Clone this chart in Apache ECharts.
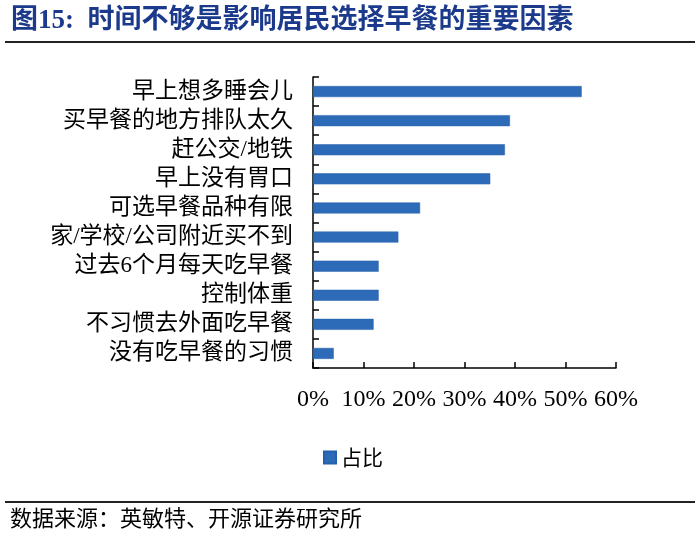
<!DOCTYPE html>
<html>
<head>
<meta charset="utf-8">
<script src="https://cdn.jsdelivr.net/npm/echarts@6/dist/echarts.min.js"></script>
<style>
html,body{margin:0;padding:0;background:#fff;}
#c{width:700px;height:539px;}
</style>
</head>
<body>
<div id="c"></div>
<script>
var categories = ['早上想多睡会儿','买早餐的地方排队太久','赶公交/地铁','早上没有胃口','可选早餐品种有限','家/学校/公司附近买不到','过去6个月每天吃早餐','控制体重','不习惯去外面吃早餐','没有吃早餐的习惯'];
var shareValues = [53.2, 39.0, 38.0, 35.1, 21.2, 16.9, 13.0, 13.0, 12.0, 4.1];
var xTicks = [0, 10, 20, 30, 40, 50, 60];
var seriesName = '占比';
var titleText = '图15:  时间不够是影响居民选择早餐的重要因素';
var sourceText = '数据来源：英敏特、开源证券研究所';

var cjk = '"Noto Sans CJK SC", sans-serif';
var chart = echarts.init(document.getElementById('c'), null, {renderer:'canvas'});
chart.setOption({
  backgroundColor:'#fff',
  animation:false,
  title:{
    text: titleText,
    left: 6, top: 3,
    textStyle:{color:'#1B3A8C', fontSize:27, fontWeight:'bold', fontFamily:'"Liberation Serif", '+cjk}
  },
  legend:{
    data:[seriesName],
    left: 318, top: 442,
    itemWidth:12, itemHeight:12, itemGap:8,
    icon:'rect',
    textStyle:{color:'#000', fontSize:21, fontFamily:cjk}
  },
  grid:{left:313, right:84, top:77, bottom:171, containLabel:false},
  xAxis:{
    type:'value', min:0, max:60, interval:10,
    axisLine:{show:true, lineStyle:{color:'#000', width:1.5}},
    axisTick:{show:true, inside:true, length:6, lineStyle:{color:'#000', width:1.5}},
    splitLine:{show:false},
    axisLabel:{margin:20, color:'#000', fontSize:24, hideOverlap:false, fontFamily:'"Liberation Serif", serif', formatter:function(v){return v+'%';}}
  },
  yAxis:{
    type:'category', data:categories, inverse:true,
    axisLine:{show:true, lineStyle:{color:'#000', width:1.5}},
    axisTick:{show:true, inside:true, length:6, interval:0, lineStyle:{color:'#000', width:1.5}},
    axisLabel:{margin:20, interval:0, hideOverlap:false, color:'#000', fontSize:23, fontFamily:'"Liberation Serif", '+cjk}
  },
  series:[{
    name:seriesName, type:'bar', data:shareValues, barWidth:11,
    itemStyle:{color:'#2D6BB8', borderColor:'#2560AA', borderWidth:0.5}
  }],
  graphic:[
    {type:'line', shape:{x1:5,y1:42,x2:695,y2:42}, style:{stroke:'#222', lineWidth:2}},
    {type:'line', shape:{x1:5,y1:502,x2:695,y2:502}, style:{stroke:'#222', lineWidth:2}},
    {type:'text', left:10, top:507, style:{text:sourceText, fill:'#000', fontSize:22, fontFamily:cjk}}
  ]
});
</script>
</body>
</html>
